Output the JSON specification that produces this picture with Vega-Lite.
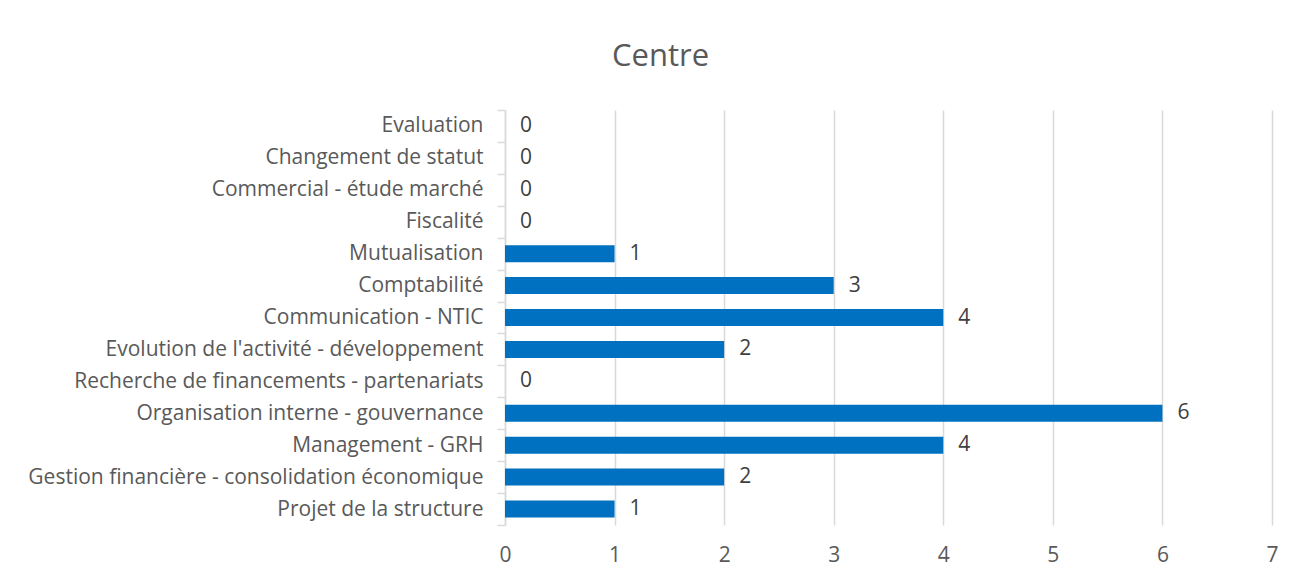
{
  "$schema": "https://vega.github.io/schema/vega-lite/v6.json",
  "width": 767,
  "height": 415,
  "autosize": {"type": "none"},
  "padding": {"left": 505, "top": 110, "right": 25, "bottom": 53},
  "background": "white",
  "title": {
    "text": "Centre",
    "fontSize": 31,
    "font": "Open Sans",
    "fontWeight": "normal",
    "color": "#595959",
    "anchor": "middle",
    "dx": -228,
    "offset": 26
  },
  "data": {
    "values": [
      {"cat": "Evaluation", "n": 0},
      {"cat": "Changement de statut", "n": 0},
      {"cat": "Commercial - étude marché", "n": 0},
      {"cat": "Fiscalité", "n": 0},
      {"cat": "Mutualisation", "n": 1},
      {"cat": "Comptabilité", "n": 3},
      {"cat": "Communication - NTIC", "n": 4},
      {"cat": "Evolution de l'activité - développement", "n": 2},
      {"cat": "Recherche de financements - partenariats", "n": 0},
      {"cat": "Organisation interne - gouvernance", "n": 6},
      {"cat": "Management - GRH", "n": 4},
      {"cat": "Gestion financière - consolidation économique", "n": 2},
      {"cat": "Projet de la structure", "n": 1}
    ]
  },
  "encoding": {
    "y": {
      "field": "cat",
      "type": "nominal",
      "sort": null,
      "scale": {"paddingInner": 0, "paddingOuter": 0},
      "axis": {
        "title": null,
        "tickBand": "extent",
        "tickSize": 8,
        "tickColor": "#d9d9d9",
        "tickWidth": 1.5,
        "domainColor": "#d9d9d9",
        "domainWidth": 1.5,
        "labelPadding": 14,
        "labelFont": "Open Sans",
        "labelFontSize": 21,
        "labelColor": "#595959",
        "labelLimit": 600,
        "grid": false
      }
    },
    "x": {
      "field": "n",
      "type": "quantitative",
      "scale": {"domain": [0, 7], "nice": false},
      "axis": {
        "title": null,
        "values": [0, 1, 2, 3, 4, 5, 6, 7],
        "labelOverlap": false,
        "labelFlush": false,
        "domain": false,
        "ticks": false,
        "tickSize": 0,
        "labelPadding": 19,
        "labelFont": "Open Sans",
        "labelFontSize": 21,
        "labelColor": "#595959",
        "gridColor": "#d9d9d9",
        "gridWidth": 1.5
      }
    }
  },
  "layer": [
    {"mark": {"type": "bar", "color": "#0070C0", "size": 17}},
    {
      "mark": {"type": "text", "align": "left", "baseline": "middle", "dx": 15, "font": "Open Sans", "fontSize": 21, "color": "#404040"},
      "encoding": {"text": {"field": "n", "type": "quantitative"}}
    }
  ],
  "config": {"view": {"stroke": null}}
}
